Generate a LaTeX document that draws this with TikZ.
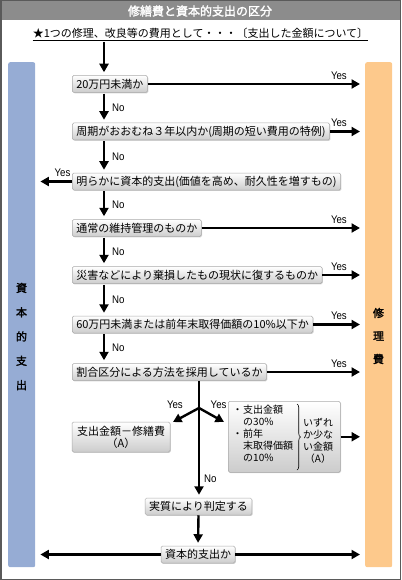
\documentclass[tikz,border=0pt]{standalone}
\usepackage{fontspec}
\setmainfont{Noto Sans CJK JP}
\newfontfamily\jpbold{Noto Sans CJK JP}[FakeBold=2]
\newfontfamily\narrowlat{Liberation Sans}[FakeStretch=0.88]
\usetikzlibrary{arrows.meta,shadows,decorations.pathreplacing}
\definecolor{framecol}{RGB}{90,90,90}
\definecolor{titlecol}{RGB}{140,140,140}
\definecolor{bluebar}{RGB}{150,172,212}
\definecolor{orangebar}{RGB}{253,201,140}
\definecolor{boxedge}{RGB}{170,170,170}
\begin{document}
\begin{tikzpicture}[x=1pt,y=-1pt,
  qbox/.style={draw=boxedge, line width=0.5pt, top color=white, bottom color=gray!40,
    rounded corners=1.5pt, font=\fontsize{11}{13}\selectfont, inner xsep=4pt, inner ysep=0pt,
    minimum height=17pt,
    drop shadow={shadow xshift=0.8pt, shadow yshift=-0.8pt, opacity=0.35, fill=gray}},
  arr/.style={line width=2.4pt, -{Triangle[length=8.5pt,width=9pt]}},
  lbl/.style={font=\narrowlat\fontsize{11}{11}\selectfont, inner sep=1pt},
  bartxt/.style={font=\jpbold\fontsize{11}{24.3}\selectfont, align=center, inner sep=0pt},
  barbox/.style={rounded corners=2pt, minimum width=27pt, minimum height=505pt,
    anchor=north west, inner sep=0pt}
]
\useasboundingbox (0,0) rectangle (401,580);
% title and frame
\fill[titlecol] (1.5,1.5) rectangle (399.5,20.5);
\draw[framecol, line width=1.5pt] (0.75,0.75) rectangle (400.25,579.25);
\node[font=\jpbold\fontsize{12}{12}\selectfont, text=white] (title) at (200,11) {修繕費と資本的支出の区分};
\node[font=\fontsize{11}{13}\selectfont, inner xsep=0pt, inner ysep=1.5pt] (sub) at (200.5,33)
  {★1つの修理、改良等の費用として・・・〔支出した金額について〕};
\draw[line width=0.8pt] (sub.south west) -- (sub.south east);
% side bars
\node[barbox, fill=bluebar] (shihon) at (8,62) {};
\node[barbox, fill=orangebar] (shuri) at (365,62) {};
\node[bartxt] (shihonlbl) at (21.5,336.5) {資\\本\\的\\支\\出};
\node[bartxt, font=\jpbold\fontsize{11}{23}\selectfont] (shurilbl) at (378.5,336) {修\\理\\費};
% coordinates
\coordinate (vx) at (104,0);
\coordinate (vx2) at (199,0);
\coordinate (j) at (199,408);
\coordinate (jl) at (173,422);
\coordinate (jr) at (224,422);
% boxes
\node[qbox, anchor=west] (b1) at (72,84) {20万円未満か};
\node[qbox, anchor=west] (b2) at (72,131.5) {周期がおおむね３年以内か(周期の短い費用の特例)};
\node[qbox, anchor=west] (b3) at (72,181.5) {明らかに資本的支出(価値を高め、耐久性を増すもの)};
\node[qbox, anchor=west] (b4) at (72,228) {通常の維持管理のものか};
\node[qbox, anchor=west] (b5) at (72,275) {災害などにより棄損したもの現状に復するものか};
\node[qbox, anchor=west] (b6) at (72,324.5) {60万円未満または前年末取得価額の10\%以下か};
\node[qbox, anchor=west] (b7) at (72,372) {割合区分による方法を採用しているか};
\node[qbox, align=center, minimum width=98pt, minimum height=30pt,
  font=\fontsize{11}{12}\selectfont] (ba) at (121,437) {支出金額－修繕費\\（A）};
\node[qbox, minimum width=112pt, minimum height=71pt, anchor=north west] (bb) at (228,401) {};
\node[anchor=north west, align=left, inner sep=0pt, font=\fontsize{10}{12}\selectfont] (bbl) at (232,405)
  {\makebox[11pt]{・}支出金額\\\hspace*{11pt}の30\%\\\makebox[11pt]{・}前年\\\hspace*{11pt}末取得価額\\\hspace*{11pt}の10\%};
\node[align=center, inner sep=0pt, font=\fontsize{10}{12}\selectfont] (bbr) at (318,440.5)
  {いずれ\\か少な\\い金額\\（A）};
\draw[decorate, decoration={brace, amplitude=3.5pt}, line width=0.6pt] (297,404) -- (297,470);
\node[qbox] (judge) at (198.5,506.5) {実質により判定する};
\node[qbox] (final) at (198,554.5) {資本的支出か};
% top arrow
\draw[arr, shorten >=3pt, shorten <=2pt] (sub.south -| vx) -- (b1.north -| vx);
% No arrows
\foreach \a/\b in {b1/b2,b2/b3,b3/b4,b4/b5,b5/b6,b6/b7}{
  \draw[arr, shorten >=3pt, shorten <=1pt] (\a.south -| vx) -- node[lbl, anchor=west, xshift=6pt]{No} (\b.north -| vx);
}
% Yes arrows to the right
\foreach \a in {b1,b2,b4,b5,b6,b7}{
  \draw[arr, shorten >=5pt] (\a.east) -- node[lbl, pos=1, anchor=south east, xshift=-16pt, yshift=2.5pt]{Yes} (\a.east -| shuri.west);
}
% Yes arrow to the left
\draw[arr, shorten >=5pt] (b3.west) -- node[lbl, pos=1, anchor=south west, xshift=17pt, yshift=2.5pt]{Yes} (b3.west -| shihon.east);
% split
\draw[arr, shorten >=3pt] (b7.south -| vx2) -- node[lbl, pos=0.84, anchor=west, xshift=3pt]{No} (judge.north -| vx2);
\draw[arr] (j) -- node[lbl, anchor=south east, xshift=-1pt, yshift=4pt]{Yes} (jl);
\draw[arr] (j) -- node[lbl, anchor=south west, xshift=-3pt, yshift=4pt]{Yes} (jr);
\draw[arr, shorten >=5pt] (bb.east) -- (bb.east -| shuri.west);
% bottom
\draw[arr, shorten >=3pt] (judge.south) -- (final.north);
\draw[arr, shorten >=5pt] (final.west) -- (final.west -| shihon.east);
\draw[arr, shorten >=5pt] (final.east) -- (final.east -| shuri.west);
\end{tikzpicture}
\end{document}
